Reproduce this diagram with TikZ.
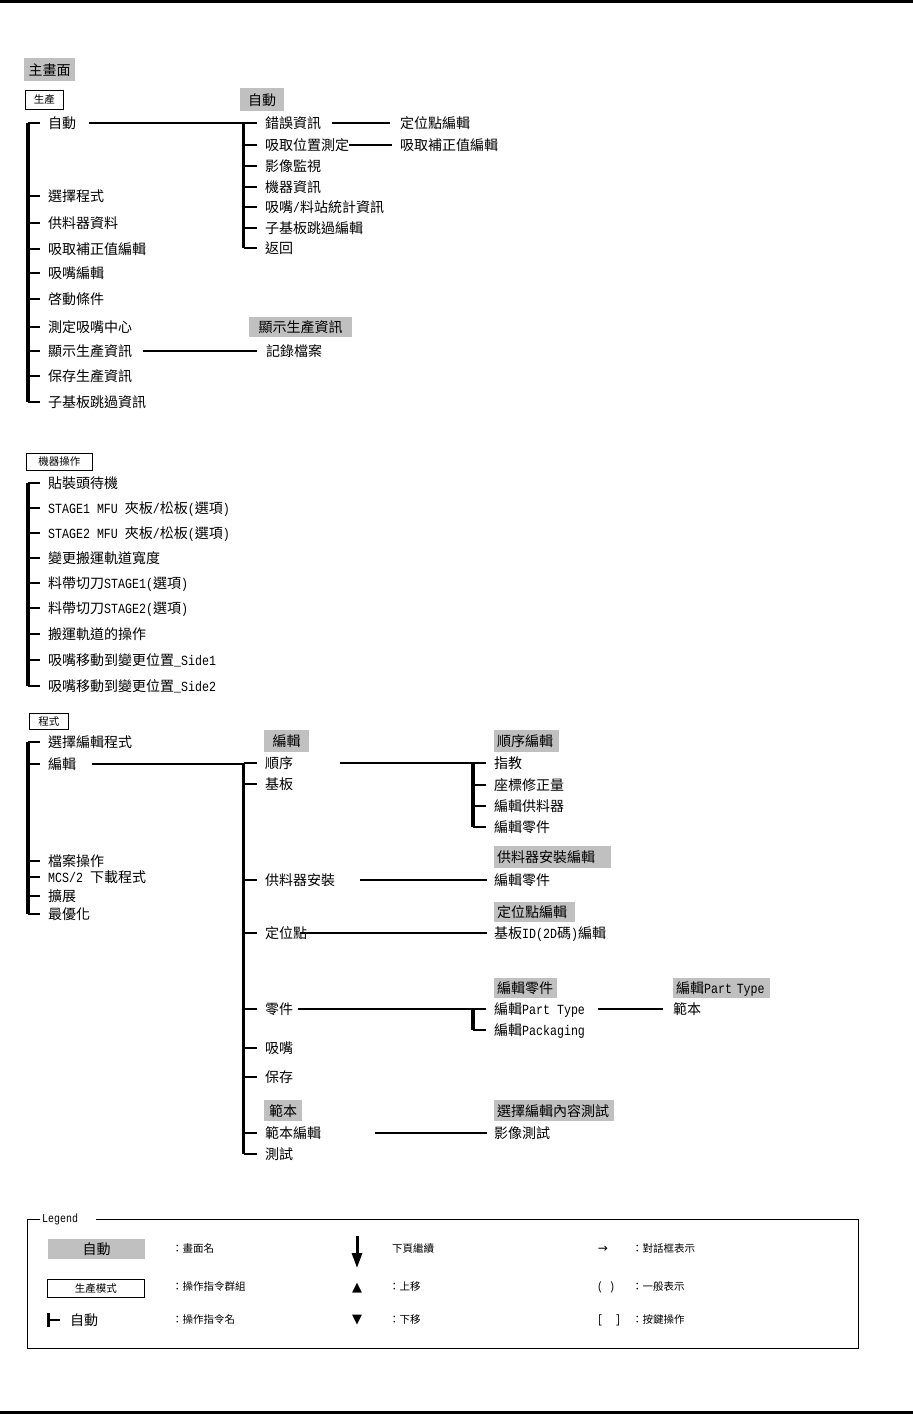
\documentclass[tikz,border=0pt]{standalone}
\usepackage{fontspec}
\setmainfont{Noto Sans CJK TC}
\newfontfamily\latfont[FakeStretch=0.83]{Liberation Mono}
\newfontfamily\symfont{DejaVu Sans}
\usetikzlibrary{arrows.meta}
\definecolor{scrgray}{RGB}{192,192,192}
\newcommand{\halfw}[1]{{\latfont #1}}
\newcommand{\itemsize}{\fontsize{14}{16}\selectfont}
\newcommand{\notesize}{\fontsize{10.5}{12}\selectfont}

\begin{document}
\begin{tikzpicture}[x=1pt, y=-1pt,
    item/.style={anchor=west, inner sep=0pt, font=\itemsize,
                 text height=12.3pt, text depth=1.7pt},
    note/.style={anchor=west, inner sep=0pt, font=\notesize,
                 text height=9.2pt, text depth=1.3pt},
    screen/.style={fill=scrgray, anchor=north west, inner xsep=3pt,
                   inner ysep=0pt, minimum height=21pt, font=\itemsize,
                   text height=12.3pt, text depth=1.7pt, align=center},
    group/.style={draw, line width=0.9pt, anchor=north west, inner sep=0pt,
                  font=\notesize, text height=9.2pt, text depth=1.3pt},
    bar/.style={line width=3.5pt},
    tick/.style={line width=1.3pt},
    link/.style={line width=1.2pt}]
  \useasboundingbox (0,0) rectangle (913,1414);
  \draw[line width=2.8pt] (0,1.4) -- (913,1.4);
  \draw[line width=2.8pt] (0,1412.6) -- (913,1412.6);
  \coordinate (b1) at (28,0);
  \coordinate (b2) at (243.5,0);
  \coordinate (b3) at (473,0);

  % 生產
  \node[screen, text width=45pt, minimum height=23pt] (mainscr) at (24,58) {主畫面};
  \node[group, minimum width=38pt, minimum height=19pt] (prod) at (25,90) {生產};
  \node[screen, text width=38pt, minimum height=23pt] (autoscr) at (240,88) {自動};
  \node[item] (p1)  at (48,123) {自動};
  \node[item] (p2)  at (48,196) {選擇程式};
  \node[item] (p3)  at (48,223) {供料器資料};
  \node[item] (p4)  at (48,249) {吸取補正值編輯};
  \node[item] (p5)  at (48,273) {吸嘴編輯};
  \node[item] (p6)  at (48,299) {啓動條件};
  \node[item] (p7)  at (48,327) {測定吸嘴中心};
  \node[item] (p8)  at (48,351) {顯示生產資訊};
  \node[item] (p9)  at (48,376) {保存生產資訊};
  \node[item] (p10) at (48,402) {子基板跳過資訊};
  \node[item] (a1) at (265,123) {錯誤資訊};
  \node[item] (a2) at (265,145) {吸取位置測定};
  \node[item] (a3) at (265,166) {影像監視};
  \node[item] (a4) at (265,187) {機器資訊};
  \node[item] (a5) at (265,207) {吸嘴\halfw{/}料站統計資訊};
  \node[item] (a6) at (265,228) {子基板跳過編輯};
  \node[item] (a7) at (265,248) {返回};
  \node[item] (a1r) at (400,123) {定位點編輯};
  \node[item] (a2r) at (400,145) {吸取補正值編輯};
  \node[screen, text width=97pt, minimum height=20pt] (showscr) at (249,317) {顯示生產資訊};
  \node[item] (rec) at (266,351) {記錄檔案};
  \draw[bar] (p1 -| b1) -- (p10 -| b1);
  \foreach \i in {1,...,10} \draw[tick] (p\i -| b1) -- ([xshift=-8pt]p\i.west);
  \draw[bar] (a1 -| b2) -- (a7 -| b2);
  \foreach \i in {1,...,7} \draw[tick] (a\i -| b2) -- ([xshift=-8pt]a\i.west);
  \draw[link] ([xshift=13pt]p1.east) -- (p1 -| b2);
  \draw[link] ([xshift=11pt]a1.east) -- ([xshift=-10pt]a1r.west);
  \draw[link] (a2.east) -- ([xshift=-8pt]a2r.west);
  \draw[link] ([xshift=11pt]p8.east) -- ([xshift=-9pt]rec.west);

  % 機器操作
  \node[group, minimum width=66pt, minimum height=17pt] (mach) at (26,453) {機器操作};
  \node[item] (m1) at (48,483) {貼裝頭待機};
  \node[item] (m2) at (48,508) {\halfw{STAGE1 MFU }夾板\halfw{/}松板\halfw{(}選項\halfw{)}};
  \node[item] (m3) at (48,533) {\halfw{STAGE2 MFU }夾板\halfw{/}松板\halfw{(}選項\halfw{)}};
  \node[item] (m4) at (48,558) {變更搬運軌道寬度};
  \node[item] (m5) at (48,583) {料帶切刀\halfw{STAGE1(}選項\halfw{)}};
  \node[item] (m6) at (48,608) {料帶切刀\halfw{STAGE2(}選項\halfw{)}};
  \node[item] (m7) at (48,634) {搬運軌道的操作};
  \node[item] (m8) at (48,660) {吸嘴移動到變更位置\halfw{\_Side1}};
  \node[item] (m9) at (48,686) {吸嘴移動到變更位置\halfw{\_Side2}};
  \draw[bar] (m1 -| b1) -- (m9 -| b1);
  \foreach \i in {1,...,9} \draw[tick] (m\i -| b1) -- ([xshift=-8pt]m\i.west);

  % 程式
  \node[group, minimum width=39pt, minimum height=16pt] (prog) at (29,713) {程式};
  \node[item] (g1) at (48,742) {選擇編輯程式};
  \node[item] (g2) at (48,764) {編輯};
  \node[item] (g3) at (48,861) {檔案操作};
  \node[item] (g4) at (48,877) {\halfw{MCS/2 }下載程式};
  \node[item] (g5) at (48,896) {擴展};
  \node[item] (g6) at (48,914) {最優化};
  \node[screen, text width=39pt, minimum height=22pt] (editscr) at (264,730) {編輯};
  \node[item] (e1) at (265,763)  {順序};
  \node[item] (e2) at (265,784)  {基板};
  \node[item] (e3) at (265,880)  {供料器安裝};
  \node[item] (e4) at (265,933)  {定位點};
  \node[item] (e5) at (265,1009) {零件};
  \node[item] (e6) at (265,1048) {吸嘴};
  \node[item] (e7) at (265,1077) {保存};
  \node[screen, text width=32pt] (tmplscr) at (264,1100) {範本};
  \node[item] (e8) at (265,1133) {範本編輯};
  \node[item] (e9) at (265,1154) {測試};
  \node[screen, text width=59pt, minimum height=22pt, align=left] (seqscr) at (494,730) {順序編輯};
  \node[item] (s1) at (494,763) {指教};
  \node[item] (s2) at (494,785) {座標修正量};
  \node[item] (s3) at (494,806) {編輯供料器};
  \node[item] (s4) at (494,827) {編輯零件};
  \node[screen, text width=111pt, minimum height=22pt, align=left] (feedscr) at (494,846) {供料器安裝編輯};
  \node[item] (f1) at (494,880) {編輯零件};
  \node[screen, text width=75pt, minimum height=20pt, align=left] (markscr) at (494,902) {定位點編輯};
  \node[item] (k1) at (494,933) {基板\halfw{ID(2D}碼\halfw{)}編輯};
  \node[screen, text width=57pt, minimum height=20pt, align=left] (partscr) at (494,978) {編輯零件};
  \node[item] (t1) at (494,1009) {編輯\halfw{Part Type}};
  \node[item] (t2) at (494,1030) {編輯\halfw{Packaging}};
  \node[screen, text width=91pt, minimum height=20pt, align=left] (ptypescr) at (673,978) {編輯\halfw{Part Type}};
  \node[item] (ty1) at (673,1009) {範本};
  \node[screen, text width=114pt, align=left] (testscr) at (494,1100) {選擇編輯內容測試};
  \node[item] (v1) at (494,1133) {影像測試};
  \draw[bar] (g1 -| b1) -- (g6 -| b1);
  \foreach \i in {1,...,6} \draw[tick] (g\i -| b1) -- ([xshift=-8pt]g\i.west);
  \draw[bar] (e1 -| b2) -- (e9 -| b2);
  \foreach \i in {1,...,9} \draw[tick] (e\i -| b2) -- ([xshift=-8pt]e\i.west);
  \draw[bar] (s1 -| b3) -- (s4 -| b3);
  \foreach \i in {1,...,4} \draw[tick] (s\i -| b3) -- ([xshift=-8pt]s\i.west);
  \draw[bar] (t1 -| b3) -- (t2 -| b3);
  \foreach \i in {1,2} \draw[tick] (t\i -| b3) -- ([xshift=-8pt]t\i.west);
  \draw[link] ([xshift=16pt]g2.east) -- (g2 -| b2);
  \draw[link] ([xshift=47pt]e1.east) -- (e1 -| b3);
  \draw[link] ([xshift=25pt]e3.east) -- ([xshift=-7pt]f1.west);
  \draw[link] ([xshift=-7pt]e4.east) -- ([xshift=-7pt]k1.west);
  \draw[link] ([xshift=5pt]e5.east) -- (e5 -| b3);
  \draw[link] ([xshift=13pt]t1.east) -- ([xshift=-10pt]ty1.west);
  \draw[link] ([xshift=54pt]e8.east) -- ([xshift=-7pt]v1.west);

  % Legend
  \draw[line width=0.9pt] (27,1219) rectangle (858,1348);
  \node[anchor=west, fill=white, inner xsep=2pt, inner ysep=1pt, text width=52pt,
        align=left, font=\fontsize{12}{14}\latfont] (lgd) at (40,1219) {Legend};
  \node[screen, text width=91pt, minimum height=20pt] (lgscr) at (48,1239) {自動};
  \node[note] (lgscrt) at (172,1249) {：畫面名};
  \node[group, minimum width=97pt, minimum height=18pt] (lggrp) at (47,1279) {生產模式};
  \node[note] (lggrpt) at (172,1287) {：操作指令群組};
  \node[item] (lgcmd) at (70,1320) {自動};
  \coordinate (lb) at (48.5,0);
  \draw[line width=3pt] (lgcmd -| lb) ++(0,-7) -- ++(0,14);
  \draw[tick] (lgcmd -| lb) -- ([xshift=-10pt]lgcmd.west);
  \node[note] (lgcmdt) at (172,1320) {：操作指令名};
  \coordinate (lgarr) at (357,1236);
  \draw[line width=3pt, -{Triangle[width=10pt, length=15pt]}] (lgarr) -- ++(0,32);
  \node[note] (lgnext) at (392,1249) {下頁繼續};
  \node[inner sep=0pt, font=\fontsize{13}{13}\symfont] (lgup) at (357,1288) {▲};
  \node[note] (lgupt) at (389,1287) {：上移};
  \node[inner sep=0pt, font=\fontsize{13}{13}\symfont] (lgdown) at (357,1320) {▼};
  \node[note] (lgdownt) at (389,1320) {：下移};
  \node[inner sep=0pt, font=\fontsize{12}{12}\symfont] (lgdlg) at (603,1249) {→};
  \node[note] (lgdlgt) at (632,1249) {：對話框表示};
  \node[note, font=\fontsize{12}{12}\latfont] (lgpar) at (597,1287) {( )};
  \node[note] (lgpart) at (632,1287) {：一般表示};
  \node[note, font=\fontsize{12}{12}\latfont] (lgkey) at (597,1320) {[\ \ ]};
  \node[note] (lgkeyt) at (632,1320) {：按鍵操作};
\end{tikzpicture}
\end{document}
